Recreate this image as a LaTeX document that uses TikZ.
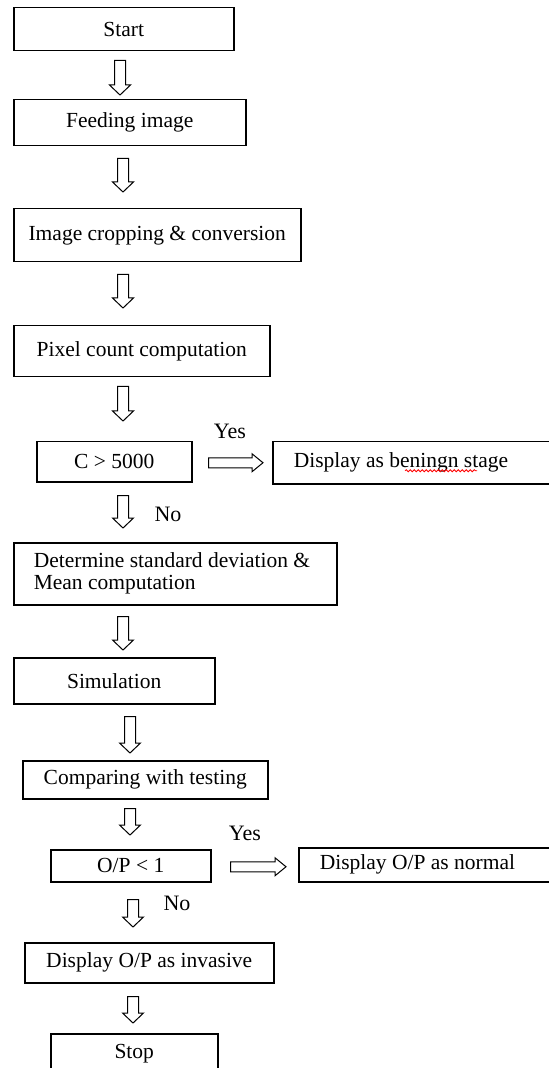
\documentclass[tikz,border=0pt]{standalone}
\usepackage{fontspec}
\setmainfont{Liberation Serif}
\usetikzlibrary{calc,decorations.pathmorphing}

\begin{document}
\begin{tikzpicture}[x=0.5pt,y=-0.5pt,
    box/.style={draw, line width=0.75pt, anchor=north west, inner sep=0pt, align=center,
      font=\fontsize{10.75}{11}\selectfont},
    leftbox/.style={box, align=left, execute at begin node={\spaceskip=0pt\xspaceskip=0pt\relax}},
    hollow/.style={draw, line width=0.5pt, fill=white, line join=miter},
    lbl/.style={font=\fontsize{11}{12}\selectfont, inner sep=0pt},
    spellwave/.style={red, line width=0.4pt, decorate, decoration={snake, amplitude=0.5pt, segment length=2pt}}]

  \useasboundingbox (0,0) rectangle (549,1068);

  % main column
  \node[box, minimum width=110pt, minimum height=21.5pt] (start) at (13,7) {Start};
  \node[box, minimum width=116pt, minimum height=23pt] (feed) at (13,99) {Feeding image};
  \node[box, minimum width=143.5pt, minimum height=26.5pt] (crop) at (13,208) {Image cropping \& conversion};
  \node[box, minimum width=128pt, minimum height=25.5pt] (pixel) at (13,325) {Pixel count computation};
  \node[box, minimum width=77.5pt, minimum height=20pt] (cond1) at (36,441) {C > 5000};
  \node[leftbox, text width=141.5pt, inner xsep=10pt, minimum height=31pt] (stats) at (13,542)
    {Determine standard deviation \&\\Mean computation};
  \node[box, minimum width=100.5pt, minimum height=23pt] (sim) at (13,657) {Simulation};
  \node[box, minimum width=122.5pt, minimum height=19pt] (compare) at (22,760) {Comparing with testing};
  \node[box, minimum width=80pt, minimum height=16pt] (cond2) at (50,849) {O/P < 1};
  \node[box, minimum width=124.5pt, minimum height=20pt] (invasive) at (24,942) {Display O/P as invasive};
  \node[box, minimum width=83.5pt, minimum height=19.5pt] (stop) at (50,1033) {Stop};

  % side outcomes, cut by the right edge
  \node[leftbox, text width=124pt, inner xsep=10.5pt, minimum height=21pt] (benign) at (272,441)
    {Display as beningn stage};
  \node[leftbox, text width=111pt, inner xsep=10.5pt, minimum height=17pt] (normal) at (298,847)
    {Display O/P as normal};
  % spell checker wave under "beningn"
  \draw[spellwave] ($(benign.west)+(133,8)$) -- ($(benign.west)+(205,8)$);

  % decision labels
  \node[lbl] (yes1) at (230,431) {Yes};
  \node[lbl] (no1) at (168,514) {No};
  \node[lbl] (yes2) at (245,833) {Yes};
  \node[lbl] (no2) at (177,903) {No};

  % hollow down arrows: from/to/column/top gap/bottom gap
  \foreach \a/\b/\col/\g/\h in {start/feed/120/9/4, feed/crop/123/12/16, crop/pixel/123/12/17,
      pixel/cond1/123/9/20, cond1/stats/123/13/14, stats/sim/123/11/7, sim/compare/130/12/7,
      compare/cond2/130/9/14, cond2/invasive/133/17/15, invasive/stop/133/13/10}
  {
    \draw[hollow] let \p1=($(\a.south)+(0,\g)$), \p2=($(\b.north)+(0,-\h)$), \p3=(\col,0) in
      (\x3-2.75pt,\y1) -- (\x3+2.75pt,\y1) -- (\x3+2.75pt,\y2+5pt) -- (\x3+5.25pt,\y2+5pt)
      -- (\x3,\y2) -- (\x3-5.25pt,\y2+5pt) -- (\x3-2.75pt,\y2+5pt) -- cycle;
  }

  % hollow right arrows
  \foreach \a/\b/\g/\h in {cond1/benign/16/9, cond2/normal/19/12}
  {
    \draw[hollow] let \p1=($(\a.east)+(\g,1)$), \p2=($(\b.west)+(-\h,0)$) in
      (\x1,\y1+2.5pt) -- (\x2-5.5pt,\y1+2.5pt) -- (\x2-5.5pt,\y1+4.5pt) -- (\x2,\y1)
      -- (\x2-5.5pt,\y1-4.5pt) -- (\x2-5.5pt,\y1-2.5pt) -- (\x1,\y1-2.5pt) -- cycle;
  }

\end{tikzpicture}
\end{document}
